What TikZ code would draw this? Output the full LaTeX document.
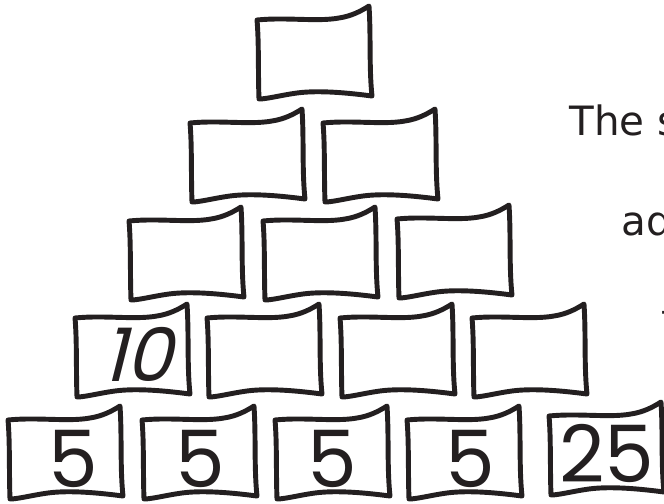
\documentclass[tikz,border=0pt]{standalone}
\usepackage{fontspec}
\setmainfont{DejaVu Sans}
\newfontfamily\numfont{Poppins}
\newfontfamily\numslant[FakeSlant=0.25]{Poppins}
\usepackage{xcolor}
\usetikzlibrary{calc}
\definecolor{ink}{HTML}{231F20}

\tikzset{
  brick/.style={minimum width=2.24cm, minimum height=1.84cm, inner sep=0pt, anchor=north west},
  outline/.style={draw=ink, line width=2.8pt, line join=round, line cap=round},
  digit/.style={font=\numfont\fontsize{45}{45}\selectfont, text=ink, inner sep=0pt},
  prose/.style={font=\fontsize{23}{23}\selectfont, text=ink, inner sep=0pt, anchor=base west}
}

% hand drawn outline of one brick, in pixel units from its top left corner
\newcommand{\sketchbox}[1]{%
  \draw[outline, shift={(#1.north west)}]
    (0,14) .. controls (30,11) and (60,16) .. (82,12)
    .. controls (95,10) and (104,5) .. (112,0)
    .. controls (114,30) and (112,62) .. (115,90)
    .. controls (92,87) and (62,84) .. (40,87)
    .. controls (25,89) and (10,93) .. (2,93)
    .. controls (1,66) and (2,36) .. (0,14) -- cycle;}

\begin{document}
\begin{tikzpicture}[x=0.02cm, y=-0.02cm]
  \useasboundingbox (0,0) rectangle (664,504);
  \clip (0,0) rectangle (664,504);
  % Pyramid of bricks: name/left/top
  \foreach \name/\bx/\by in {r0c1/257/6,
      r1c1/190/109, r1c2/323/109,
      r2c1/129/207, r2c2/263/207, r2c3/397/205,
      r3c1/75/304, r3c2/207/304, r3c3/340/304, r3c4/472/304,
      r4c1/8/406, r4c2/142/406, r4c3/275/406, r4c4/407/406, r4c5/549/402} {
    \node[brick] (\name) at (\bx,\by) {};
    \sketchbox{\name}
  }
  % Given numbers
  \node[digit, font=\numslant\fontsize{42}{42}\selectfont] (n31) at (137,354) {10};
  \node[digit] (n41) at (73,459) {5};
  \node[digit] (n42) at (200,459) {5};
  \node[digit] (n43) at (332,459) {5};
  \node[digit] (n44) at (470,459) {5};
  \node[digit] (n45) at (607,453) {25};
  % Text on the right (cut off by the page edge)
  \node[prose] (line1) at (569,135) {The s};
  \node[prose] (line2) at (621,235) {ad};
  \node[prose] (line3) at (661,333) {t};
\end{tikzpicture}
\end{document}
